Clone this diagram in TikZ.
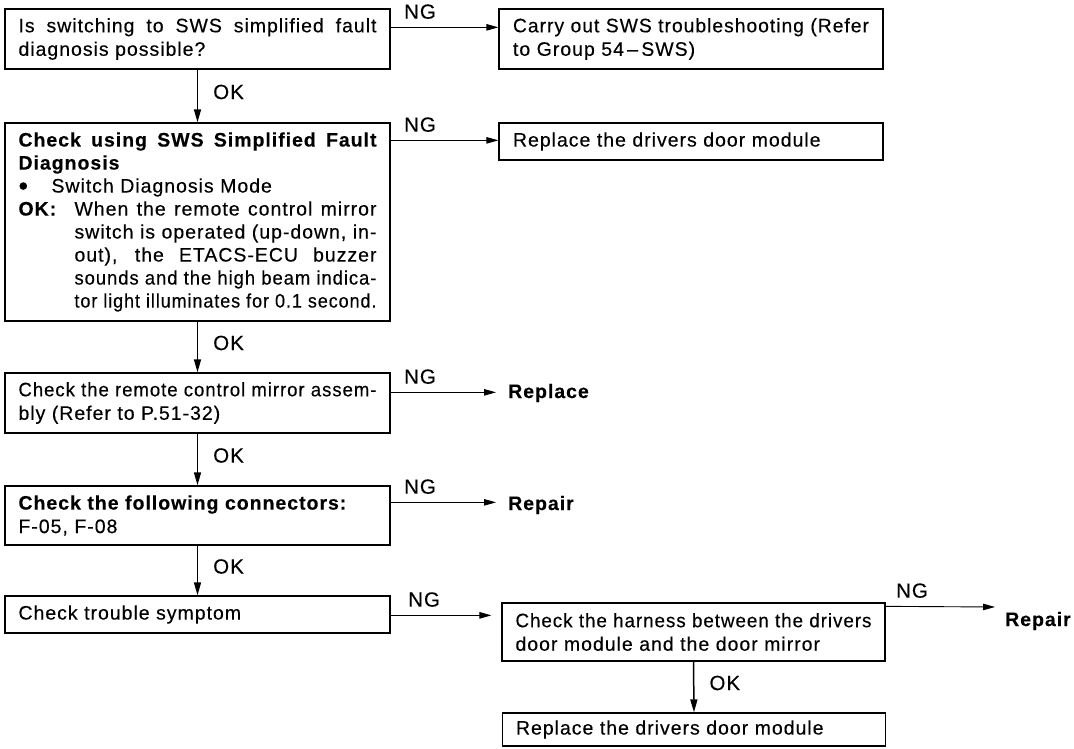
\documentclass[tikz,border=0pt]{standalone}
\usepackage{fontspec}
\setmainfont{Liberation Sans}[LetterSpace=5,WordSpace=1.5,UprightFeatures={FakeBold=0.3},BoldFeatures={FakeBold=0.3}]
\usepackage{graphicx}
\usetikzlibrary{arrows.meta}
\newlength\fitlen
\newcommand\fitto[2]{\settowidth\fitlen{#2}\ifdim\fitlen>#1\relax\resizebox{#1}{\height}{#2}\else{\spaceskip=0.3em plus 1fil\relax\makebox[#1][s]{#2}}\fi}
\begin{document}
\begin{tikzpicture}[x=1pt,y=-1pt,
  box/.style={draw, line width=1.3pt, text width=#1, align=left, inner xsep=13.5pt, inner ysep=0pt,
    font=\fontsize{19.5}{23.5}\selectfont},
  box/.default=358pt,
  endtext/.style={anchor=west, inner xsep=12pt, inner ysep=0pt, font=\fontsize{19.5}{22}\selectfont\bfseries},
  varrow/.style={line width=1.5pt, -{Triangle[length=13pt,width=7pt]}},
  ngarrow/.style={line width=0.9pt, -{Triangle[length=12pt,width=6.5pt]}},
  oklbl/.style={anchor=west, inner sep=0pt, xshift=15pt, yshift=4pt, font=\fontsize{20.5}{22}\selectfont},
  nglbl/.style={anchor=south west, inner sep=0pt, xshift=13pt, yshift=8pt, font=\fontsize{20.5}{22}\selectfont}
]
\useasboundingbox (0,0) rectangle (1074,749);

% left column
\node[box, minimum height=60pt] (b1) at (197.5,39)
  {\fitto{358pt}{Is switching to SWS simplified fault}\\diagnosis possible?};
\node[box, minimum height=198pt, font=\fontsize{19.5}{23}\selectfont] (b2) at (197.5,222)
  {\fitto{358pt}{\bfseries Check using SWS Simplified Fault}\\
   {\bfseries Diagnosis}\\
   \makebox[33pt][l]{\raisebox{-0.25ex}{\scalebox{1.4}{\textbullet}}}Switch Diagnosis Mode\\
   \makebox[56pt][l]{\bfseries OK:}\fitto{302pt}{When the remote control mirror}\\
   \hspace*{56pt}\fitto{302pt}{switch is operated (up-down, in-}\\
   \hspace*{56pt}\fitto{302pt}{out), the ETACS-ECU buzzer}\\
   \hspace*{56pt}\fitto{302pt}{sounds and the high beam indica-}\\
   \hspace*{56pt}\fitto{302pt}{tor light illuminates for 0.1 second.}};
\node[box, minimum height=60pt] (b3) at (197.5,403)
  {\fitto{358pt}{Check the remote control mirror assem-}\\bly (Refer to P.51-32)};
\node[box, minimum height=59pt] (b4) at (197.5,515.5)
  {{\bfseries Check the following connectors:}\\F-05, F-08};
\node[box, minimum height=37pt] (b5) at (197.5,614.5)
  {Check trouble symptom};

% right column
\node[box=356pt, inner xsep=14pt, minimum height=60pt] (r1) at (691,39)
  {\fitto{356pt}{Carry out SWS troubleshooting (Refer}\\to Group 54\,--\,SWS)};
\node[box=356pt, inner xsep=14pt, minimum height=37pt] (r2) at (691,141.5)
  {Replace the drivers door module};
\node[endtext] (rep1) at (496,393) {Replace};
\node[endtext] (rep2) at (496,505) {Repair};
\node[box=356pt, inner xsep=13.5pt, minimum height=58pt] (h) at (693.5,632)
  {\fitto{356pt}{Check the harness between the drivers}\\door module and the door mirror};
\node[box=356pt, inner xsep=13.5pt, minimum height=33pt] (rd) at (694,729.5)
  {Replace the drivers door module};
\node[anchor=west, inner sep=0pt, font=\fontsize{19.5}{22}\selectfont\bfseries] (rep3) at (1005,621) {Repair};

% OK arrows
\draw[varrow] (b1.south) -- node[oklbl] {OK} (b2.north);
\draw[varrow] (b2.south) -- node[oklbl] {OK} (b3.north);
\draw[varrow] (b3.south) -- node[oklbl] {OK} (b4.north);
\draw[varrow] (b4.south) -- node[oklbl] {OK} (b5.north);
\draw[varrow] (h.south) -- node[oklbl] {OK} (rd.north);

% NG arrows
\coordinate (s1) at ([yshift=-19pt]b1.north east);
\coordinate (t1) at ([yshift=-19pt]r1.north west);
\draw[ngarrow] (s1) -- node[at start, nglbl] {NG} (t1);
\coordinate (s2) at ([yshift=-18pt]b2.north east);
\coordinate (t2) at ([yshift=-18pt]r2.north west);
\draw[ngarrow] (s2) -- node[at start, nglbl] {NG} (t2);
\coordinate (s3) at ([yshift=-20pt]b3.north east);
\draw[ngarrow] (s3) -- node[at start, nglbl] {NG} (s3 -| rep1.west);
\coordinate (s4) at ([yshift=-17pt]b4.north east);
\draw[ngarrow] (s4) -- node[at start, nglbl] {NG} (s4 -| rep2.west);
\coordinate (s5) at ([yshift=-20pt]b5.north east);
\coordinate (t5) at ([xshift=-10pt]h.west);
\draw[ngarrow, line width=1.1pt] (s5) -- node[at start, nglbl, xshift=4pt] {NG} (s5 -| t5);
\coordinate (s6) at ([yshift=-4pt]h.north east);
\coordinate (e6) at (995,607);
\draw[ngarrow] (s6) -- node[at start, nglbl, xshift=-3pt] {NG} (e6);
\end{tikzpicture}
\end{document}
